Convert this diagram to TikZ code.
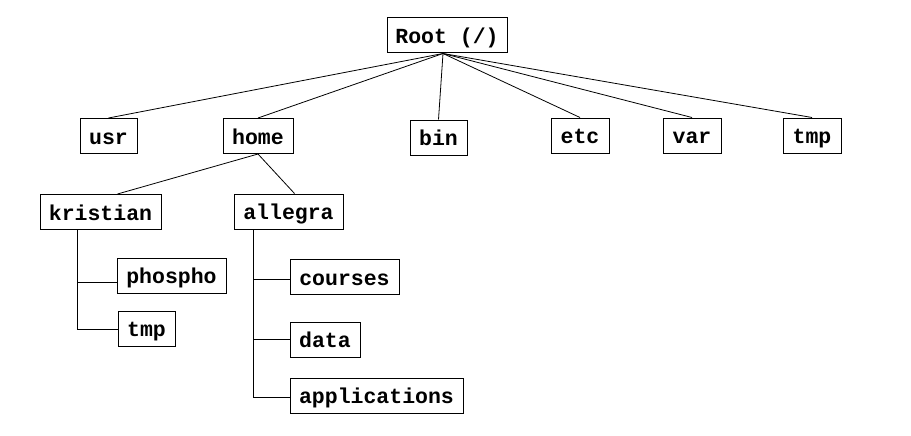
\documentclass[tikz,border=0pt]{standalone}
\usepackage{fontspec}
\setmainfont{Liberation Mono}
\usetikzlibrary{calc}
\begin{document}
\begin{tikzpicture}[x=1pt,y=-1pt,
  dirbox/.style={draw=black,line width=1pt,fill=white,inner xsep=0pt,inner ysep=0pt,
    minimum height=35pt,text height=16.5pt,text depth=0pt,
    font=\fontsize{21.5}{24}\selectfont\bfseries},
  link/.style={draw=black,line width=0.8pt}]
\useasboundingbox (0,0) rectangle (911,436);
\node[dirbox,minimum width=120pt] (root) at (447,35.5) {Root (/)};
\node[dirbox,minimum width=57pt] (usr) at (108.5,136) {usr};
\node[dirbox,minimum width=70pt] (home) at (258,136) {home};
\node[dirbox,minimum width=57pt] (bin) at (438.5,137.5) {bin};
\node[dirbox,minimum width=58pt] (etc) at (580,135.5) {etc};
\node[dirbox,minimum width=58pt] (var) at (692,135.5) {var};
\node[dirbox,minimum width=58pt] (tmpa) at (812,135.5) {tmp};
\node[dirbox,minimum width=121pt] (kristian) at (100.5,212) {kristian};
\node[dirbox,minimum width=109pt] (allegra) at (288.5,211.5) {allegra};
\node[dirbox,minimum width=109pt] (phospho) at (171.5,275.5) {phospho};
\node[dirbox,minimum width=57pt] (tmpb) at (146.5,328.5) {tmp};
\node[dirbox,minimum width=109pt] (courses) at (344.5,277) {courses};
\node[dirbox,minimum width=70pt] (data) at (325,339.5) {data};
\node[dirbox,minimum width=173pt] (applications) at (376.5,395.5) {applications};
\coordinate (rs) at ($(root.south)+(-4,0)$);
\foreach \c in {usr,home,bin,etc,var,tmpa}{
  \draw[link] (rs) -- (\c.north);
}
\draw[link] (home.south) -- ($(kristian.north)+(17,0)$);
\draw[link] (home.south) -- ($(allegra.north)+(6,0)$);
\coordinate (kv) at ($(kristian.south)+(-23.5,0)$);
\coordinate (kp) at ($(phospho.west)+(0,6.5)$);
\coordinate (kt) at ($(tmpb.west)+(0,0.5)$);
\draw[link] (kv) |- (kt);
\draw[link] (kv |- kp) -- (kp);
\coordinate (av) at ($(allegra.south)+(-35.5,0)$);
\coordinate (ac) at ($(courses.west)+(0,2)$);
\coordinate (ad) at ($(data.west)+(0,-0.5)$);
\coordinate (aa) at ($(applications.west)+(0,1.5)$);
\draw[link] (av) |- (aa);
\draw[link] (av |- ac) -- (ac);
\draw[link] (av |- ad) -- (ad);
\end{tikzpicture}
\end{document}
